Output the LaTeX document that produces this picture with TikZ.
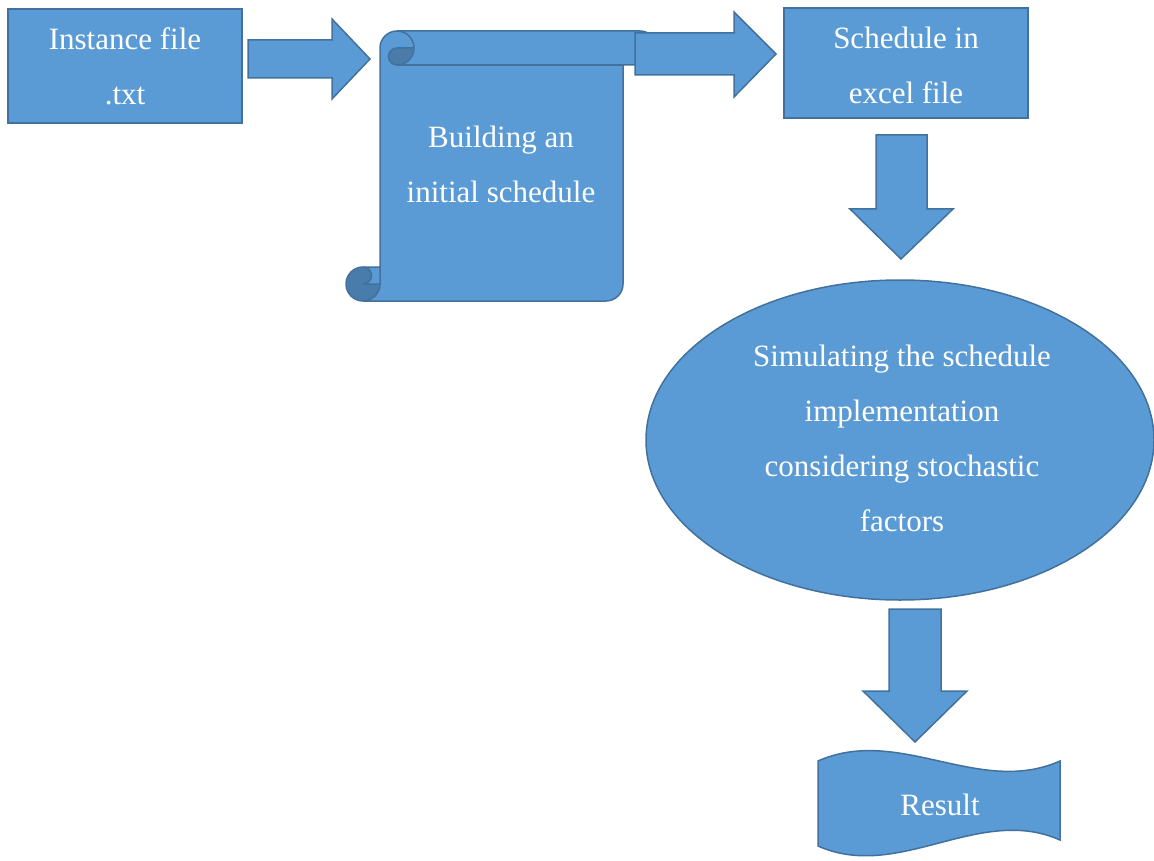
\documentclass[tikz,border=0pt]{standalone}
\usepackage{fontspec}
\setmainfont{Liberation Serif}
\usetikzlibrary{shapes.geometric}
\definecolor{fillblue}{HTML}{5B9BD5}
\definecolor{edgeblue}{HTML}{41719C}
\definecolor{curlblue}{HTML}{497CAA}
\begin{document}
\begin{tikzpicture}[x=1pt,y=-1pt,
  shapebox/.style={fill=fillblue, draw=edgeblue, line width=1.5pt},
  curl/.style={fill=curlblue},
  outline/.style={draw=edgeblue, line width=1.5pt},
  txt/.style={text=white, font=\fontsize{31}{55}\selectfont, align=center, inner sep=0pt}]
\useasboundingbox (0,0) rectangle (1154,861);

% input file box
\node[shapebox, minimum width=234pt, minimum height=114pt, inner sep=0pt] (inst) at (125,66) {};
\node[txt] (instT) at (inst) {Instance file\\.txt};

% block arrow to the scroll
\draw[shapebox] (248,40) -- (332,40) -- (332,19) -- (370,59) -- (332,99) -- (332,78) -- (248,78) -- cycle;

% vertical scroll: left 346, top 31, right 657, bottom 301, roll size 34
\fill[fillblue] (380,267) -- (380,48) arc[start angle=180, delta angle=90, radius=17]
  -- (640,31) arc[start angle=270, delta angle=180, radius=17]
  -- (623,65) -- (623,284) arc[start angle=0, delta angle=90, radius=17]
  -- (363,301) arc[start angle=90, delta angle=180, radius=17] -- cycle;
\fill[curl] (414,48) arc[start angle=0, delta angle=90, radius=17]
  arc[start angle=90, delta angle=180, radius=8.5] -- cycle;
\fill[curl] (380,284) arc[start angle=0, delta angle=270, radius=17]
  arc[start angle=270, delta angle=180, radius=8.5] -- cycle;
\draw[outline] (380,267) -- (380,48) arc[start angle=180, delta angle=90, radius=17]
  -- (640,31) arc[start angle=270, delta angle=180, radius=17]
  -- (623,65) -- (623,284) arc[start angle=0, delta angle=90, radius=17]
  -- (363,301) arc[start angle=90, delta angle=180, radius=17] -- cycle;
\draw[outline] (397,31) arc[start angle=270, delta angle=180, radius=17]
  arc[start angle=90, delta angle=180, radius=8.5] -- (414,48);
\draw[outline] (623,65) -- (397,65);
\draw[outline] (363,267) arc[start angle=270, delta angle=180, radius=8.5] -- (380,284);
\draw[outline] (363,301) arc[start angle=90, delta angle=-90, radius=17] -- (380,267);
\node[txt] (build) at (501,164) {Building an\\initial schedule};

% block arrow to the excel box
\draw[shapebox] (635,33) -- (734,33) -- (734,12) -- (776,54) -- (734,97) -- (734,75) -- (635,75) -- cycle;

% excel schedule box
\node[shapebox, minimum width=244pt, minimum height=110pt, inner sep=0pt] (excel) at (906,63) {};
\node[txt] (excelT) at (906,65) {Schedule in\\excel file};

% block arrow down to the simulation
\draw[shapebox] (876,135) -- (927,135) -- (927,209) -- (953,209) -- (901,259) -- (850,209) -- (876,209) -- cycle;

% simulation ellipse
\node[shapebox, ellipse, minimum width=508pt, minimum height=320pt, inner sep=0pt] (sim) at (900,440) {};
\node[txt] (simT) at (902,438) {Simulating the schedule\\implementation\\considering stochastic\\factors};

% block arrow down to the result
\draw[shapebox] (889,609) -- (941,609) -- (941,691) -- (967,691) -- (915,742) -- (863,691) -- (889,691) -- cycle;

% result tape with wavy top and bottom edges
\draw[shapebox] (818,761) .. controls (899,725) and (979,797) .. (1060,761)
  -- (1060,840) .. controls (979,804) and (899,882) .. (818,846) -- cycle;
\node[txt] (res) at (940,805) {Result};
\end{tikzpicture}
\end{document}
